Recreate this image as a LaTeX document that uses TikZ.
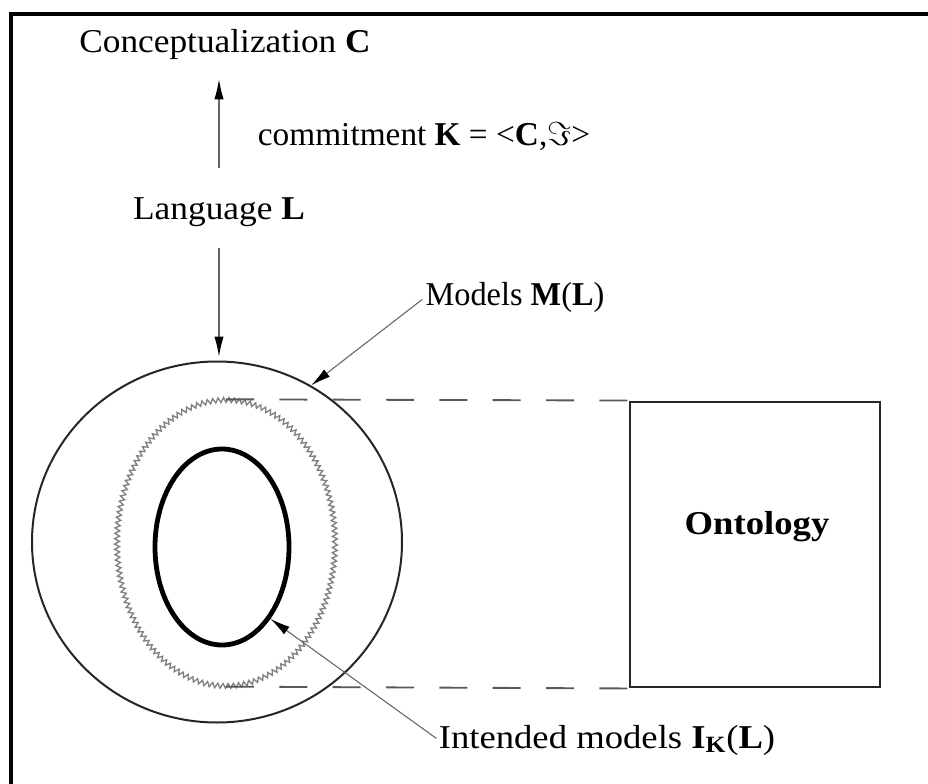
\documentclass[tikz,border=0pt]{standalone}
\usepackage{fontspec}
\setmainfont{Liberation Serif}
\usetikzlibrary{arrows.meta,decorations.pathmorphing,shapes.geometric}
\begin{document}
\begin{tikzpicture}[x=0.75pt,y=-0.75pt,
  lbl/.style={inner sep=0pt, font=\fontsize{25}{29}\selectfont},
  conn/.style={draw=black!60, line width=0.8pt, -{Latex[length=15pt,width=7pt,color=black]}},
  dashline/.style={draw=black!65, line width=1.4pt, dash pattern=on 21pt off 19pt},
  ring/.style={ellipse, inner sep=0pt},
]
\useasboundingbox (0,0) rectangle (928,784);
\fill[white] (0,0) rectangle (928,784);
\draw[line width=2.4pt] (11,790) -- (11,14) -- (935,14);

% texts
\node[lbl] (concept) at (225,44) {\scalebox{1.06}[1]{Conceptualization \textbf{C}}};
\node[lbl] (commit) at (424,137) {\scalebox{1.0}[1]{commitment \textbf{K} = <\textbf{C},$\Im$>}};
\node[lbl] (lang) at (219,212) {\scalebox{1.06}[1]{Language \textbf{L}}};
\node[lbl] (models) at (515,297) {\scalebox{0.97}[1]{Models \textbf{M}(\textbf{L})}};
\node[lbl] (intended) at (607,740) {\scalebox{1.1}[1]{Intended models \textbf{I}$_{\mathbf{K}}$(\textbf{L})}};

% ellipses
\node[ring, draw=black!85, line width=1.5pt, minimum width=370*0.75pt, minimum height=361*0.75pt] (outer) at (217,542) {};
\node[ring, draw=black!50, line width=1pt, decorate, decoration={zigzag, segment length=4pt, amplitude=1.8pt}, minimum width=218*0.75pt, minimum height=286*0.75pt] (mid) at (226,543) {};
\node[ring, draw=black, line width=3.6pt, minimum width=134*0.75pt, minimum height=196*0.75pt] (inner) at (222,547) {};

% ontology box
\node[draw=black!85, line width=2.2pt, minimum width=250*0.75pt, minimum height=285*0.75pt, inner sep=0pt] (onto) at (755,544.5) {};
\node[lbl] (ontolabel) at (757,527) {\scalebox{1.1}[1]{\textbf{Ontology}}};

% dashed lines
\draw[dashline] (mid.north) -- (onto.north west);
\draw[dashline] (mid.south) -- (onto.south west);

% connectors
\draw[conn, shorten <=22pt, shorten >=15pt] (lang.north) -- (lang.north |- concept.south);
\draw[conn, shorten <=16pt, shorten >=3pt] (lang.south) -- (lang.south |- outer.north);
\draw[conn, shorten <=3pt] (models.west) -- (outer.59);
\draw[conn, shorten <=2pt] (intended.west) -- (inner.-56);
\end{tikzpicture}
\end{document}
